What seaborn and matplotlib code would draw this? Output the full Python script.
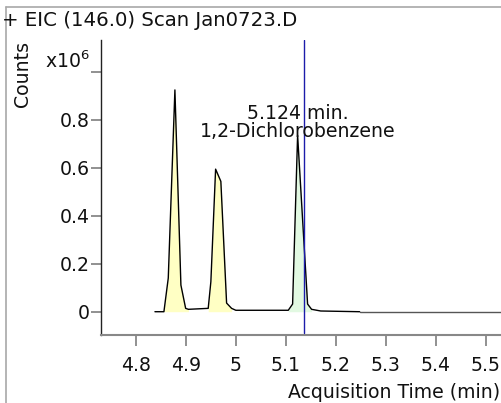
import matplotlib
matplotlib.use("Agg")
import matplotlib.pyplot as plt
import seaborn as sns
import pandas as pd
from matplotlib.lines import Line2D

# ---- data (counts in units of 1e6) ----
trace_time = [4.838, 4.856, 4.8647, 4.878, 4.890, 4.8995, 4.905, 4.9447, 4.950,
              4.9595, 4.970, 4.9815, 4.9915, 5.000, 5.105, 5.1137, 5.1237, 5.1437,
              5.1517, 5.170, 5.248]
trace_counts = [0.0, 0.0, 0.14, 0.924, 0.111, 0.014, 0.010, 0.014, 0.125,
                0.594, 0.543, 0.036, 0.014, 0.006, 0.006, 0.032, 0.735, 0.032,
                0.010, 0.003, 0.0]
tail_time = [5.248, 5.54]
tail_counts = [0.0, 0.0]
peak_ranges = [(4.856, 4.905), (4.9447, 4.9915), (5.105, 5.1517)]
peak_colors = ["#ffffc4", "#e2f9e2"]
marker_time = 5.1363
label_time = 5.1237
label_count = 0.735
label_text = "5.124 min.\n1,2-Dichlorobenzene"
x_ticks = [4.8, 4.9, 5.0, 5.1, 5.2, 5.3, 5.4, 5.5]
x_ticklabels = ["4.8", "4.9", "5", "5.1", "5.2", "5.3", "5.4", "5.5"]
y_ticks = [0, 0.2, 0.4, 0.6, 0.8, 1.0]
y_ticklabels = ["0", "0.2", "0.4", "0.6", "0.8", ""]

sns.set_style("white")
plt.rcParams["font.family"] = ["DejaVu Sans"]
FS = 13.6

W, H = 502, 403
fig = plt.figure(figsize=(W / 100, H / 100), dpi=100)
ax = fig.add_axes([101 / W, (H - 335) / H, (W - 101) / W, (335 - 40) / H])

df = pd.DataFrame({"time": trace_time, "counts": trace_counts})
tail = pd.DataFrame({"time": tail_time, "counts": tail_counts})

# fills
for i, (a, b) in enumerate(peak_ranges):
    sub = df[(df.time >= a) & (df.time <= b)]
    col = peak_colors[0] if i < 2 else peak_colors[1]
    ax.fill_between(sub.time, 0, sub.counts, color=col, lw=0, zorder=1)

sns.lineplot(data=tail, x="time", y="counts", ax=ax, color="#555555", lw=1.0,
             sort=False, estimator=None, zorder=2)
sns.lineplot(data=df, x="time", y="counts", ax=ax, color="black", lw=1.0,
             sort=False, estimator=None, zorder=3)

ax.axvline(marker_time, ymin=0.008, ymax=1, color="#1c1caa", lw=1.0, zorder=4)

ax.text(label_time, label_count - 0.025, label_text, ha="center", va="bottom",
        fontsize=FS, linespacing=0.95, color="#111111", zorder=5)

ax.set_xlim(4.73, 5.533)
ax.set_ylim(-0.097, 1.132)
ax.set_xticks(x_ticks)
ax.set_xticklabels(x_ticklabels, fontsize=FS)
ax.set_yticks(y_ticks)
ax.set_yticklabels(y_ticklabels, fontsize=FS)
ax.set_xlabel("")
ax.set_ylabel("")

for s in ["top", "right"]:
    ax.spines[s].set_visible(False)
ax.spines["left"].set_color("#222222")
ax.spines["left"].set_linewidth(1.0)
ax.spines["bottom"].set_color("#888888")
ax.spines["bottom"].set_linewidth(1.5)
ax.tick_params(axis="x", bottom=True, direction="out", length=8, width=1.3,
               color="#888888", pad=7, labelcolor="#111111")
ax.tick_params(axis="y", left=True, direction="out", length=7, width=1.3,
               color="#888888", pad=1, labelcolor="#111111")
ax.set_facecolor("white")

# figure-level texts
fig.text(2 / W, 1 - 21 / H, "+ EIC (146.0) Scan Jan0723.D", ha="left", va="center",
         fontsize=14.2, color="#111111")
fig.text(23 / W, 1 - 74 / H, "Counts", rotation=90, ha="center", va="center",
         fontsize=FS, color="#111111")
fig.text(45 / W, 1 - 61 / H, r"x10$^{6}$", ha="left", va="center",
         fontsize=FS, color="#111111")
fig.text(500 / W, 1 - 393 / H, "Acquisition Time (min)", ha="right", va="center",
         fontsize=FS, color="#111111")

# outer frame lines
fig.add_artist(Line2D([6 / W, 6 / W], [0, 1 - 7 / H], transform=fig.transFigure,
                      color="#a8a8a8", lw=1.2))
fig.add_artist(Line2D([6 / W, 1], [1 - 7 / H, 1 - 7 / H], transform=fig.transFigure,
                      color="#a8a8a8", lw=1.2))

fig.savefig("out.png", dpi=100, facecolor="white")
